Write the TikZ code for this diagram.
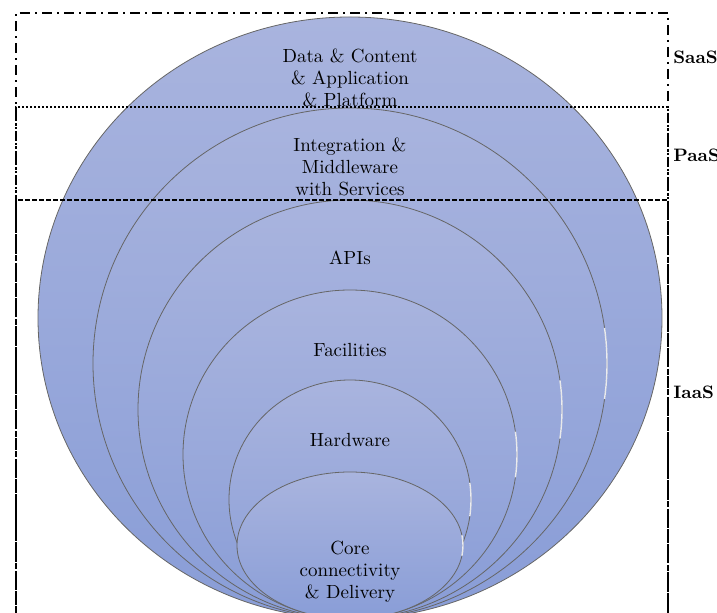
\documentclass[tikz,border=0pt]{standalone}

\definecolor{layertop}{RGB}{169,180,222}
\definecolor{layerbot}{RGB}{137,157,215}

\tikzset{
  layer/.style={top color=layertop, bottom color=layerbot, draw=black!60, line width=0.4pt},
  gleam/.style={white, line width=0.7pt, opacity=0.85},
  layertext/.style={align=center, font=\fontsize{9.5}{11}\selectfont},
  tier/.style={anchor=west, inner sep=0pt, font=\bfseries\fontsize{9}{10}\selectfont},
  saasline/.style={line width=1pt, dash pattern=on 5pt off 2.5pt on 1pt off 2.5pt},
  paasline/.style={line width=1pt, dash pattern=on 1pt off 1pt},
  iaasline/.style={line width=0.8pt, dash pattern=on 2.5pt off 1pt}
}

\begin{document}
\begin{tikzpicture}[x=0.5pt, y=-0.5pt]
  \useasboundingbox (0,0) rectangle (717,613);
  \clip (0,0) rectangle (717,613);
  % Nested layers, all touching at the bottom
  \shade[layer] (350,318) ellipse (312 and 301);
  \foreach \rx/\ry in {257/255.5, 212/209.5, 167/164.5, 121/119.5, 113/73.5} {
    \shade[layer] (350,619-\ry) ellipse ({\rx} and {\ry});
    \draw[gleam] (350,619-\ry) ++(-8:{\rx} and {\ry})
      arc[start angle=-8, end angle=8, x radius=\rx, y radius=\ry];
  }
  % Layer names
  \node[layertext] (data) at (350,78) {Data \& Content\\\& Application\\\& Platform};
  \node[layertext] (integration) at (350,167) {Integration \&\\Middleware\\with Services};
  \node[layertext] (apis) at (350,258) {APIs};
  \node[layertext] (facilities) at (350,350) {Facilities};
  \node[layertext] (hardware) at (350,440) {Hardware};
  \node[layertext] (core) at (350,572) {Core\\connectivity\\\& Delivery};
  % Service tiers
  \draw[saasline] (16,625) -- (16,13) -- (668,13) -- (668,625);
  \draw[paasline] (16,625) -- (16,107) -- (668,107) -- (668,625);
  \draw[iaasline] (16,625) -- (16,200) -- (668,200) -- (668,625);
  \node[tier] (saas) at (673,57) {SaaS};
  \node[tier] (paas) at (673,155) {PaaS};
  \node[tier] (iaas) at (673,392) {IaaS};
\end{tikzpicture}
\end{document}
